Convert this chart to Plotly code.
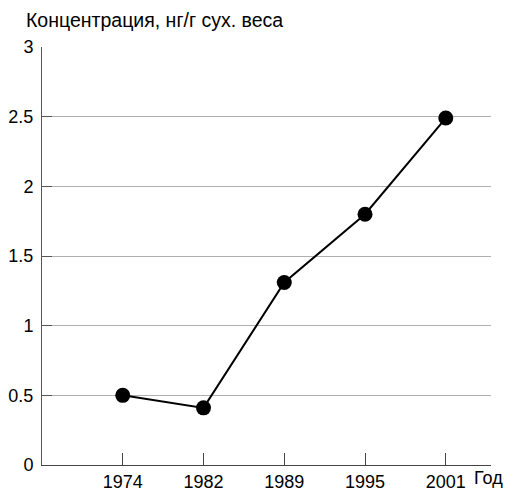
import plotly.graph_objects as go

years = ["1974", "1982", "1989", "1995", "2001"]
values = [0.5, 0.41, 1.31, 1.8, 2.49]
y_ticks = [0, 0.5, 1, 1.5, 2, 2.5, 3]
y_labels = ["0", "0.5", "1", "1.5", "2", "2.5", "3"]

font = "Liberation Sans, Arial, sans-serif"

fig = go.Figure()
fig.add_trace(go.Scatter(
    x=list(range(len(years))), y=values, mode="lines+markers",
    line=dict(color="black", width=2),
    marker=dict(color="black", size=15),
    showlegend=False, cliponaxis=False, hoverinfo="skip",
))

fig.update_layout(
    width=509, height=492,
    margin=dict(l=42, r=18, t=47, b=27, autoexpand=False),
    plot_bgcolor="white", paper_bgcolor="white",
    font=dict(family=font, size=18, color="black"),
    xaxis=dict(
        range=[-1, 4.56], tickmode="array",
        tickvals=list(range(len(years))), ticktext=years,
        showgrid=False, zeroline=False, automargin=False,
        showline=True, linecolor="#444", linewidth=1,
        ticks="inside", ticklen=12, tickcolor="#444", tickwidth=1,
        ticklabelstandoff=0,
    ),
    yaxis=dict(
        range=[0, 3], tickmode="array", tickvals=y_ticks, ticktext=y_labels,
        showgrid=True, gridcolor="#b0b0b0", gridwidth=1,
        zeroline=False, automargin=False,
        showline=True, linecolor="#555", linewidth=1,
        ticks="inside", ticklen=10, tickcolor="#555", tickwidth=1,
        ticklabelstandoff=4,
    ),
    annotations=[
        dict(text="Концентрация, нг/г сух. веса", xref="paper", yref="paper",
             x=-0.04, y=1.0, xanchor="left", yanchor="bottom", yshift=14,
             showarrow=False, font=dict(size=19.5)),
        dict(text="Год", xref="paper", yref="paper",
             x=0.9577, y=0, xanchor="left", yanchor="top", yshift=-1,
             showarrow=False, font=dict(size=18)),
    ],
)

fig.write_html(
    "out.html",
    config={"displayModeBar": False},
    post_script="document.body.style.margin='0';document.body.style.overflow='hidden';",
)
